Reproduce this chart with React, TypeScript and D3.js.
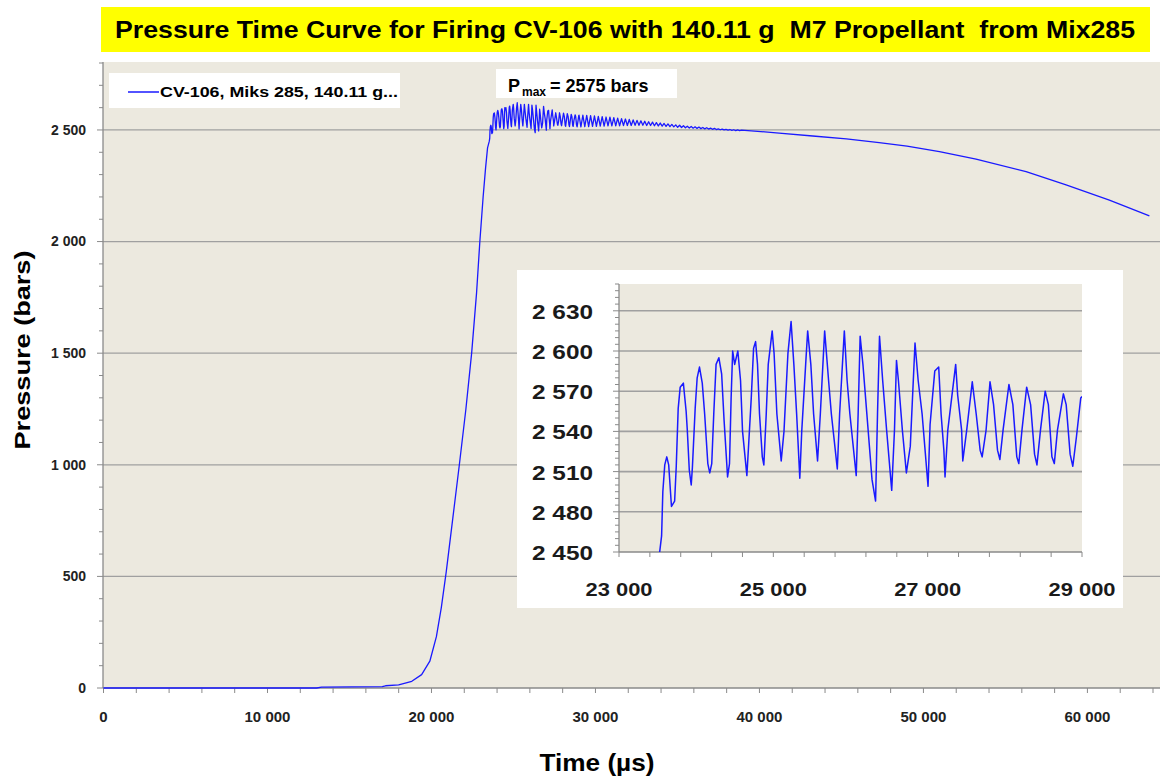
import React from 'react';
import * as d3 from 'd3';

const W = 1160;
const H = 776;

const titleText = 'Pressure Time Curve for Firing CV-106 with 140.11 g  M7 Propellant  from Mix285';
const legendLabel = 'CV-106, Miks 285, 140.11 g...';
const pmaxValueText = '= 2575 bars';
const xAxisTitle = 'Time (µs)';
const yAxisTitle = 'Pressure (bars)';

const xTickValues = [0, 10000, 20000, 30000, 40000, 50000, 60000];
const yTickValues = [0, 500, 1000, 1500, 2000, 2500];
const insetXTickValues = [23000, 25000, 27000, 29000];
const insetYTickValues = [2450, 2480, 2510, 2540, 2570, 2600, 2630];

// Ignition and pressure rise (µs, bars)
const riseTime = [0, 13000, 13300, 17000, 17200, 18000, 18800, 19400, 19900, 20300, 20600, 20900, 21300, 21700, 22100, 22450, 22750, 22950, 23150, 23300, 23420];
const risePressure = [0, 0, 4, 6, 10, 14, 30, 60, 120, 230, 360, 520, 760, 1000, 1250, 1500, 1770, 2000, 2200, 2330, 2420];

// Peak region (µs, bars)
const peakTime = [23527, 23552, 23568, 23593, 23619, 23644, 23680, 23721, 23742, 23767, 23793, 23834, 23870, 23885, 23911, 23936, 23951, 23987, 24013, 24043, 24079, 24110, 24151, 24176, 24202, 24228, 24258, 24294, 24330, 24361, 24407, 24432, 24453, 24473, 24499, 24540, 24575, 24601, 24642, 24657, 24678, 24714, 24744, 24770, 24795, 24821, 24857, 24877, 24908, 24934, 24985, 25010, 25046, 25102, 25138, 25189, 25230, 25266, 25302, 25343, 25368, 25419, 25445, 25486, 25522, 25573, 25609, 25665, 25716, 25752, 25829, 25859, 25920, 25956, 25992, 26074, 26099, 26125, 26161, 26212, 26279, 26325, 26350, 26376, 26417, 26468, 26534, 26570, 26596, 26621, 26672, 26724, 26775, 26836, 26877, 26928, 27005, 27031, 27092, 27143, 27174, 27210, 27225, 27261, 27363, 27389, 27440, 27455, 27506, 27578, 27629, 27680, 27706, 27757, 27808, 27854, 27905, 27936, 27977, 28053, 28104, 28155, 28181, 28222, 28283, 28334, 28385, 28416, 28462, 28523, 28564, 28610, 28641, 28682, 28759, 28795, 28846, 28881, 28928, 28984, 29000];
const peakPressure = [2450, 2462, 2495, 2515, 2521, 2515, 2484, 2488, 2514, 2557, 2573, 2576, 2555, 2541, 2511, 2500, 2513, 2557, 2580, 2588, 2576, 2553, 2516, 2509, 2516, 2553, 2590, 2595, 2583, 2549, 2506, 2516, 2565, 2600, 2590, 2600, 2578, 2540, 2516, 2507, 2528, 2565, 2602, 2607, 2590, 2553, 2521, 2515, 2553, 2590, 2615, 2598, 2553, 2518, 2540, 2598, 2622, 2590, 2553, 2505, 2540, 2590, 2615, 2590, 2553, 2518, 2553, 2615, 2578, 2553, 2512, 2553, 2615, 2578, 2553, 2507, 2553, 2611, 2590, 2553, 2504, 2488, 2553, 2611, 2578, 2541, 2496, 2541, 2593, 2578, 2541, 2509, 2529, 2606, 2578, 2553, 2499, 2545, 2585, 2588, 2553, 2526, 2506, 2541, 2590, 2567, 2541, 2518, 2541, 2577, 2553, 2526, 2521, 2541, 2577, 2560, 2526, 2519, 2541, 2575, 2560, 2521, 2516, 2541, 2573, 2560, 2523, 2515, 2541, 2570, 2560, 2521, 2516, 2541, 2568, 2560, 2523, 2514, 2536, 2565, 2566];

// Decaying ringing after the peak (µs, bars)
const ringTime = [29113, 29231, 29349, 29467, 29585, 29703, 29821, 29939, 30057, 30175, 30293, 30411, 30529, 30647, 30765, 30883, 31001, 31119, 31237, 31355, 31473, 31591, 31709, 31827, 31945, 32063, 32181, 32299, 32417, 32535, 32653, 32771, 32889, 33007, 33125, 33243, 33361, 33479, 33597, 33715, 33833, 33951, 34069, 34187, 34305, 34423, 34541, 34659, 34777, 34895, 35013, 35131, 35249, 35367, 35485, 35603, 35721, 35839, 35957, 36075, 36193, 36311, 36429, 36547, 36665, 36783, 36901, 37019, 37137, 37255, 37373, 37491, 37609, 37727, 37845, 37963, 38081, 38199, 38317, 38435, 38553, 38671, 38789, 38907];
const ringPressure = [2514, 2566, 2515, 2565, 2515, 2564, 2516, 2563, 2516, 2561, 2517, 2560, 2517, 2558, 2518, 2557, 2518, 2555, 2519, 2553, 2519, 2551, 2520, 2549, 2520, 2547, 2520, 2545, 2521, 2543, 2521, 2541, 2521, 2539, 2520, 2537, 2520, 2535, 2519, 2533, 2518, 2531, 2517, 2529, 2516, 2527, 2515, 2525, 2514, 2523, 2512, 2521, 2511, 2519, 2510, 2517, 2509, 2516, 2508, 2514, 2507, 2513, 2506, 2511, 2505, 2510, 2504, 2508, 2503, 2507, 2502, 2505, 2501, 2504, 2500, 2503, 2499, 2502, 2498, 2501, 2497, 2500, 2497, 2499];

// Slow pressure decline (µs, bars)
const decayTime = [39500, 41200, 43250, 45300, 47300, 49000, 50976, 53210, 56260, 58700, 61340, 63780];
const decayPressure = [2496, 2486, 2473, 2460, 2443, 2428, 2403, 2369, 2313, 2254, 2186, 2115];

const FONT = '"Liberation Sans", Arial, sans-serif';
const BLUE = '#1a1aff';
const BEIGE = '#ECE9DF';
const GRID = '#a0a0a0';
const AXIS = '#8a8a8a';

const loc = d3.formatLocale({ decimal: '.', thousands: '\u00a0', grouping: [3], currency: ['', ''] });
const fmt = loc.format(',d');

function zip(t: number[], p: number[]): [number, number][] {
  return t.map((v, i) => [v, p[i]] as [number, number]);
}

export default function App() {
  const data: [number, number][] = [
    ...zip(riseTime, risePressure),
    ...zip(peakTime, peakPressure),
    ...zip(ringTime, ringPressure),
    ...zip(decayTime, decayPressure),
  ];

  // main chart
  const x = d3.scaleLinear().domain([0, 64000]).range([103.5, 1153]);
  const y = d3.scaleLinear().domain([0, 2800]).range([688, 63]);
  const line = d3.line<[number, number]>().x(d => x(d[0])).y(d => y(d[1]));
  const xMinor = d3.range(0, 64001, 2000);
  const yMinor = d3.range(0, 2801, 100);

  // inset
  const ix = d3.scaleLinear().domain([23000, 29000]).range([619, 1082]);
  const iy = d3.scaleLinear().domain([2450, 2650]).range([552, 284]);
  const iline = d3.line<[number, number]>().x(d => ix(d[0])).y(d => iy(d[1]));
  const ixMinor = d3.range(23000, 29001, 400);
  const iyMinor = d3.range(2450, 2651, 5);
  const insetData = data.filter(d => d[0] >= 23300 && d[0] <= 29000);

  return (
    <svg width={W} height={H} style={{ position: 'absolute', left: 0, top: 0, background: '#fff' }} fontFamily={FONT}>
      <defs>
        <clipPath id="insetClip">
          <rect x={ix.range()[0]} y={iy.range()[1]} width={ix.range()[1] - ix.range()[0]} height={iy.range()[0] - iy.range()[1]} />
        </clipPath>
      </defs>

      {/* title */}
      <rect x={101} y={7} width={1049} height={45} fill="#ffff00" />
      <text x={625} y={38} textAnchor="middle" fontSize={24} fontWeight="bold" style={{ whiteSpace: 'pre' }}
        textLength={1020} lengthAdjust="spacingAndGlyphs">{titleText}</text>

      {/* plot area */}
      <rect x={103} y={62} width={W - 103} height={688 - 62} fill={BEIGE} />

      {yTickValues.filter(v => v > 0).map(v => (
        <line key={'g' + v} x1={103} x2={W} y1={y(v)} y2={y(v)} stroke={GRID} strokeWidth={1.3} />
      ))}

      {/* y axis */}
      <line x1={103} x2={103} y1={62} y2={688} stroke={AXIS} strokeWidth={1.3} />
      {yMinor.map(v => (
        <line key={'ym' + v} x1={v % 500 === 0 ? 97 : 99} x2={103} y1={y(v)} y2={y(v)} stroke={AXIS} strokeWidth={1} />
      ))}
      {yTickValues.map(v => (
        <text key={'yl' + v} x={86} y={y(v)} dy="0.35em" textAnchor="end" fontSize={14} fontWeight="bold" fill="#222">{fmt(v)}</text>
      ))}
      <text transform={`translate(30,350) rotate(-90)`} textAnchor="middle" fontSize={22} fontWeight="bold"
        textLength={199} lengthAdjust="spacingAndGlyphs">{yAxisTitle}</text>

      {/* x axis */}
      <line x1={103} x2={W} y1={688} y2={688} stroke={AXIS} strokeWidth={1.3} />
      {xMinor.map(v => (
        <line key={'xm' + v} x1={x(v)} x2={x(v)} y1={688} y2={693} stroke={AXIS} strokeWidth={1} />
      ))}
      {xTickValues.map(v => (
        <text key={'xl' + v} x={x(v)} y={722} textAnchor="middle" fontSize={15} fontWeight="bold" fill="#222">{fmt(v)}</text>
      ))}
      <text x={597} y={771} textAnchor="middle" fontSize={24} fontWeight="bold"
        textLength={115} lengthAdjust="spacingAndGlyphs">{xAxisTitle}</text>

      {/* main curve */}
      <path d={line(data) || ''} fill="none" stroke={BLUE} strokeWidth={1.3} strokeLinejoin="round" />

      {/* legend */}
      <rect x={109} y={73} width={291} height={35} fill="#fff" />
      <line x1={128} x2={159} y1={92} y2={92} stroke={BLUE} strokeWidth={1.5} />
      <text x={160} y={97} fontSize={15} fontWeight="bold" textLength={238} lengthAdjust="spacingAndGlyphs">{legendLabel}</text>

      {/* Pmax annotation */}
      <rect x={496} y={69} width={181} height={29} fill="#fff" />
      <text x={508} y={92} fontSize={18} fontWeight="bold">P</text>
      <text x={522} y={96} fontSize={12} fontWeight="bold">max</text>
      <text x={550} y={92} fontSize={18} fontWeight="bold">{pmaxValueText}</text>

      {/* inset */}
      <rect x={517} y={270} width={606} height={338} fill="#fff" />
      <rect x={ix.range()[0]} y={iy.range()[1]} width={ix.range()[1] - ix.range()[0]} height={iy.range()[0] - iy.range()[1]} fill={BEIGE} />
      {insetYTickValues.filter(v => v > 2450).map(v => (
        <line key={'ig' + v} x1={ix.range()[0]} x2={ix.range()[1]} y1={iy(v)} y2={iy(v)} stroke={GRID} strokeWidth={1.6} />
      ))}
      <line x1={619} x2={619} y1={iy.range()[1]} y2={552} stroke={AXIS} strokeWidth={1.3} />
      {iyMinor.map(v => (
        <line key={'iym' + v} x1={(v - 2450) % 30 === 0 ? 613 : 615} x2={619} y1={iy(v)} y2={iy(v)} stroke={AXIS} strokeWidth={1} />
      ))}
      <line x1={619} x2={ix.range()[1]} y1={552} y2={552} stroke={AXIS} strokeWidth={1.3} />
      {ixMinor.map(v => (
        <line key={'ixm' + v} x1={ix(v)} x2={ix(v)} y1={552} y2={557} stroke={AXIS} strokeWidth={1} />
      ))}
      {insetYTickValues.map(v => (
        <text key={'iyl' + v} x={593} y={iy(v) + 8} textAnchor="end" fontSize={20} fontWeight="bold" fill="#1a1a1a"
          textLength={61} lengthAdjust="spacingAndGlyphs">{fmt(v)}</text>
      ))}
      {insetXTickValues.map(v => (
        <text key={'ixl' + v} x={ix(v) - 33.5} y={596} fontSize={17.5} fontWeight="bold" fill="#1a1a1a"
          textLength={67} lengthAdjust="spacingAndGlyphs">{fmt(v)}</text>
      ))}
      <path d={iline(insetData) || ''} fill="none" stroke={BLUE} strokeWidth={1.5} strokeLinejoin="round" clipPath="url(#insetClip)" />
    </svg>
  );
}
